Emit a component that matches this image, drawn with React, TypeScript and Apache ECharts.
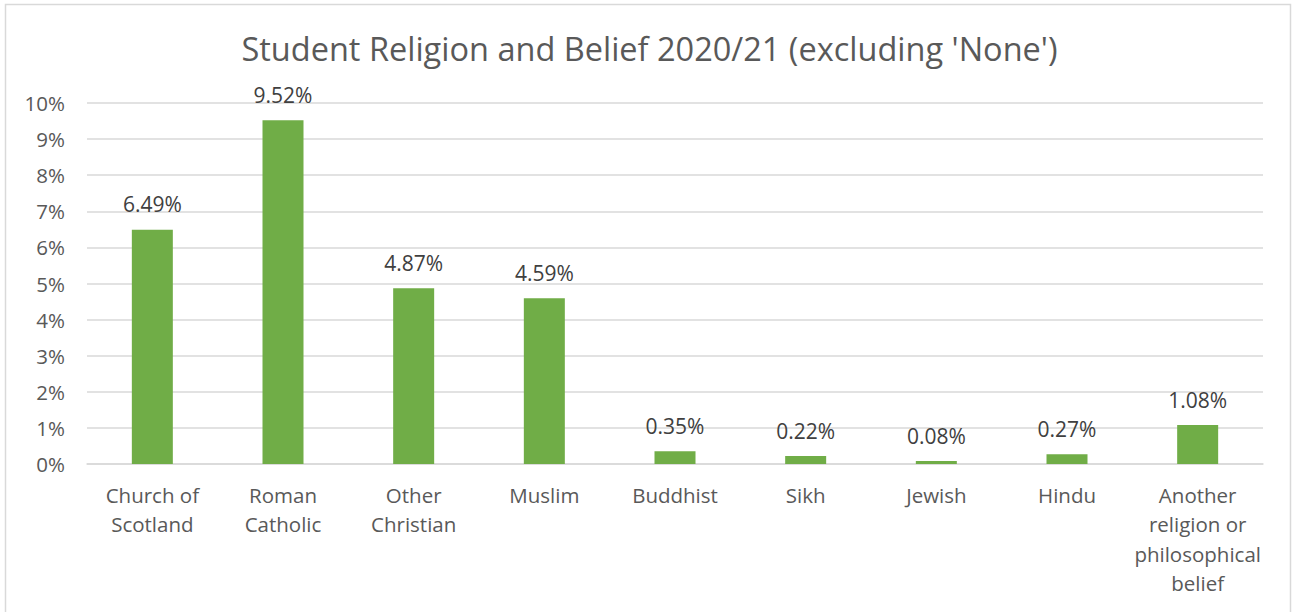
import React, { useEffect, useRef } from "react";
import * as echarts from "echarts";

const categories = [
  "Church of\nScotland",
  "Roman\nCatholic",
  "Other\nChristian",
  "Muslim",
  "Buddhist",
  "Sikh",
  "Jewish",
  "Hindu",
  "Another\nreligion or\nphilosophical\nbelief",
];
const values = [6.49, 9.52, 4.87, 4.59, 0.35, 0.22, 0.08, 0.27, 1.08];
const yTicks = { min: 0, max: 10, interval: 1 };
const title = "Student Religion and Belief 2020/21 (excluding 'None')";

const FONT = "'Open Sans', 'Noto Sans', sans-serif";

export default function App() {
  const ref = useRef<HTMLDivElement>(null);
  useEffect(() => {
    document.body.style.margin = "0";
    const chart = echarts.init(ref.current!, null, { renderer: "svg" });
    chart.setOption({
      animation: false,
      backgroundColor: "#ffffff",
      title: {
        text: title,
        left: "center",
        top: 27,
        textStyle: { fontFamily: FONT, fontSize: 32.5, fontWeight: "normal", color: "#595959" },
      },
      graphic: [
        {
          type: "rect",
          shape: { x: 5.5, y: 4.5, width: 1285, height: 620 },
          style: { fill: "none", stroke: "#d9d9d9", lineWidth: 1.5 },
          silent: true,
        },
      ],
      grid: { left: 87, right: 36, top: 103, bottom: 148, containLabel: false },
      xAxis: {
        type: "category",
        data: categories,
        axisLine: { show: true, lineStyle: { color: "#d9d9d9", width: 1.5 } },
        axisTick: { show: false },
        axisLabel: {
          interval: 0,
          margin: 16,
          fontFamily: FONT,
          fontSize: 20.5,
          lineHeight: 29.5,
          color: "#595959",
          align: "center",
        },
      },
      yAxis: {
        type: "value",
        min: yTicks.min,
        max: yTicks.max,
        interval: yTicks.interval,
        axisLine: { show: false },
        axisTick: { show: false },
        splitLine: { lineStyle: { color: "#d9d9d9", width: 1.5 } },
        axisLabel: {
          formatter: (v: number) => v + "%",
          fontFamily: FONT,
          fontSize: 20.5,
          color: "#595959",
          margin: 22,
        },
      },
      series: [
        {
          type: "bar",
          data: values,
          barWidth: 41,
          itemStyle: { color: "#70ad47" },
          label: {
            show: true,
            position: "top",
            distance: 15,
            formatter: (p: any) => p.value.toFixed(2) + "%",
            fontFamily: FONT,
            fontSize: 21,
            color: "#404040",
          },
        },
      ],
    });
    return () => chart.dispose();
  }, []);
  return <div ref={ref} style={{ width: 1299, height: 612 }} />;
}
